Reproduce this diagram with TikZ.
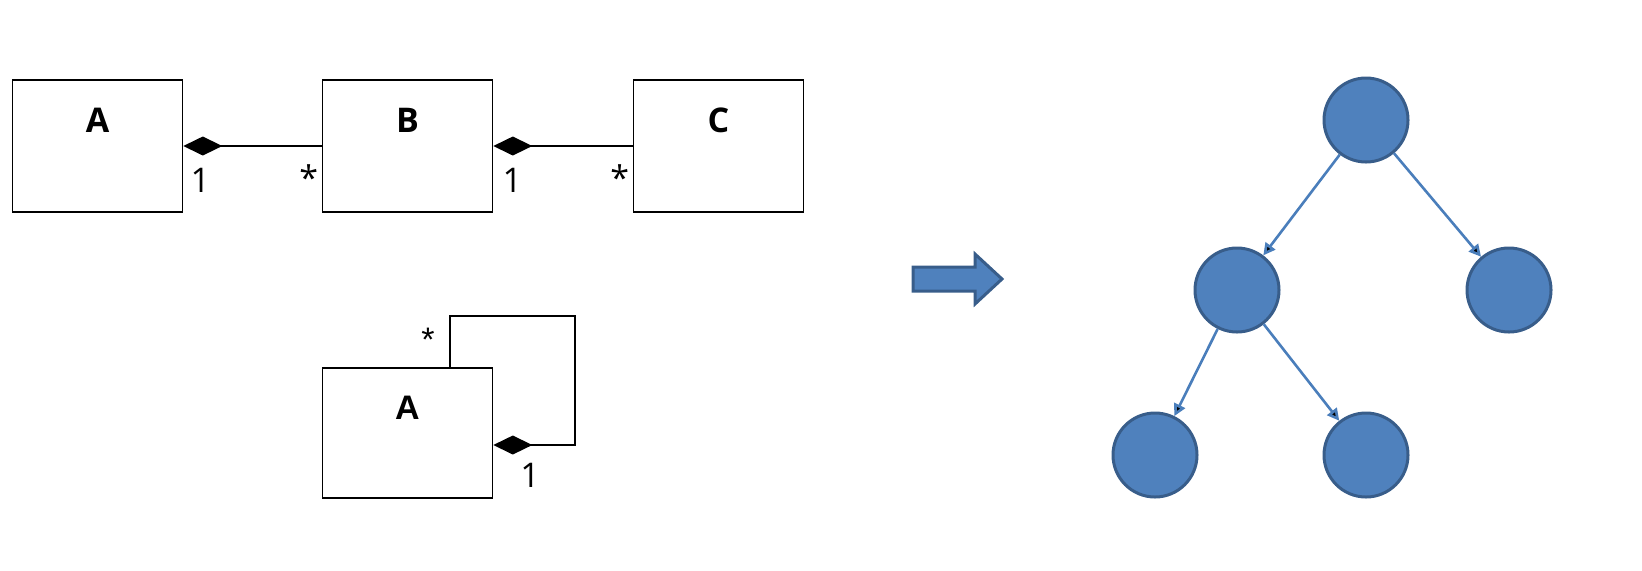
\documentclass[tikz,border=0pt]{standalone}
\usepackage{fontspec}
\setmainfont{Open Sans}
\newfontfamily\arialfont{Liberation Sans}
\usetikzlibrary{arrows.meta,positioning}
\definecolor{nodeblue}{HTML}{4F81BD}
\definecolor{nodeedge}{HTML}{385D8A}
\definecolor{linkblue}{HTML}{4A7EBB}

\begin{document}
\begin{tikzpicture}[x=0.5pt,y=-0.5pt,
    cls/.style={draw,line width=0.8pt,minimum width=85pt,minimum height=66pt,inner sep=0pt},
    clsname/.style={font=\fontsize{17}{20}\selectfont\bfseries,inner sep=0pt},
    mult/.style={font=\fontsize{17}{20}\selectfont,inner sep=0pt},
    comp/.style={line width=0.8pt,-{Diamond[length=19.5pt,width=9.5pt]}},
    tnode/.style={circle,fill=nodeblue,draw=nodeedge,line width=1.5pt,minimum size=42pt,inner sep=0pt},
    link/.style={draw=linkblue,line width=1.3pt,-{Triangle[length=6pt,width=6pt]}},
    blockarrow/.style={fill=nodeblue,draw=nodeedge,line width=1.5pt}]
  \useasboundingbox (0,0) rectangle (1642,570);

  % classes, top row
  \node[cls] (A) at (97.5,146) {};
  \node[cls] (B) at (407.5,146) {};
  \node[cls] (C) at (718.5,146) {};
  \node[clsname] (Aname) at ([yshift=13pt]A.center) {A};
  \node[clsname] (Bname) at ([yshift=13pt]B.center) {B};
  \node[clsname] (Cname) at ([yshift=13pt]C.center) {C};

  \draw[comp] (B.west) -- (A.east);
  \draw[comp] (C.west) -- (B.east);

  \node[mult] (A1) at ([xshift=8.5pt,yshift=-17pt]A.east) {1};
  \node[mult] (Bstar) at ([xshift=-6.5pt,yshift=-16pt]B.west) {*};
  \node[mult] (B1) at ([xshift=9.5pt,yshift=-17pt]B.east) {1};
  \node[mult] (Cstar) at ([xshift=-6.5pt,yshift=-16pt]C.west) {*};

  % class with self composition
  \node[cls,minimum height=65pt] (S) at (407.5,433) {};
  \node[clsname,font=\fontsize{17}{20}\selectfont\bfseries\arialfont] (Sname) at ([yshift=12.5pt]S.center) {A};
  \coordinate (loopc) at (575,316);
  \draw[comp] ([xshift=21.25pt]S.north) |- (loopc) |- ([yshift=-6pt]S.east);
  \node[mult,font=\fontsize{17}{20}\selectfont\arialfont] (Sstar) at (428,340) {*};
  \node[mult] (S1) at (530,475) {1};

  % block arrow
  \draw[blockarrow] (913,267) -- (975,267) -- (975,254) -- (1002,279)
    -- (975,304) -- (975,291) -- (913,291) -- cycle;

  % tree
  \node[tnode] (root) at (1366,120) {};
  \node[tnode] (mid) [on grid,below left=85pt and 64.5pt of root] {};
  \node[tnode] (right) [on grid,below right=85pt and 71.5pt of root] {};
  \node[tnode] (leafl) [on grid,below left=82.5pt and 41pt of mid] {};
  \node[tnode] (leafr) [on grid,below right=82.5pt and 64.5pt of mid] {};

  \path[link]
  (root) edge (mid)
  (root) edge (right)
  (mid) edge (leafl)
  (mid) edge (leafr);
\end{tikzpicture}
\end{document}
